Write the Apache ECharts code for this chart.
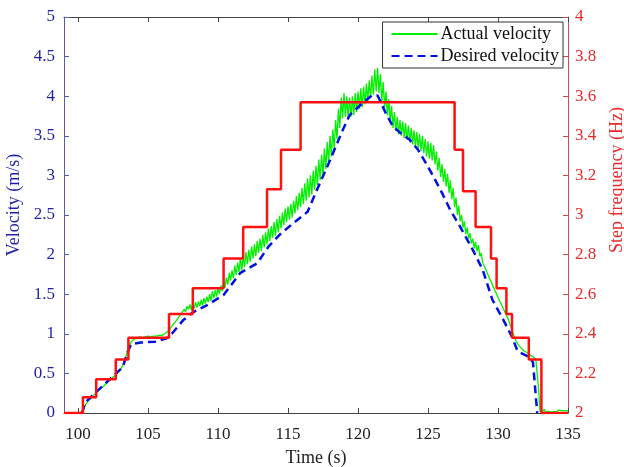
<!DOCTYPE html>
<html>
<head>
<meta charset="utf-8">
<script src="https://cdn.jsdelivr.net/npm/echarts@6/dist/echarts.min.js"></script>
<style>
  html, body { margin: 0; padding: 0; background: #fff; }
  #chart { width: 624px; height: 467px; }
</style>
</head>
<body>
<div id="chart"></div>
<script>
// time ticks on the x axis (axis itself starts at 99)
const timeTicks = [100, 105, 110, 115, 120, 125, 130, 135];

// desired velocity (m/s), dashed blue
const desiredTime = [100.3, 100.5, 101.2, 102.3, 103.2, 103.5, 103.8, 104.5, 105.5, 106.3, 106.7, 107.5, 108.2, 109.2, 110.4, 111.0, 111.6, 112.8, 113.6, 114.4, 115.4, 116.4, 116.9, 118.0, 118.9, 119.4, 120.3, 121.0, 121.4, 122.0, 122.5, 123.0, 123.7, 124.3, 124.9, 125.4, 126.0, 126.6, 127.3, 128.2, 128.9, 129.6, 130.4, 131.0, 131.4, 132.2, 132.5, 132.8];
const desiredVel = [0, 0.13, 0.25, 0.43, 0.58, 0.75, 0.87, 0.89, 0.9, 0.94, 1.0, 1.17, 1.27, 1.36, 1.49, 1.63, 1.77, 1.89, 2.1, 2.25, 2.4, 2.54, 2.75, 3.19, 3.57, 3.76, 3.91, 4.01, 4.01, 3.78, 3.62, 3.54, 3.45, 3.32, 3.14, 2.98, 2.78, 2.56, 2.35, 2.06, 1.81, 1.43, 1.17, 0.96, 0.78, 0.71, 0.64, 0];

// actual velocity (m/s), sampled every 0.1 s from 100 s
const actualStart = 100;
const actualDt = 0.1;
const actualVel = [
  // 100.0 - 104.0
  0, 0, 0.01, 0.02, 0.04, 0.09, 0.12, 0.15, 0.17, 0.18,
  0.20, 0.22, 0.24, 0.26, 0.27, 0.29, 0.31, 0.32, 0.34, 0.35,
  0.37, 0.39, 0.40, 0.42, 0.44, 0.45, 0.47, 0.48, 0.50, 0.52,
  0.54, 0.57, 0.60, 0.65, 0.70, 0.76, 0.82, 0.86, 0.90, 0.92,
  0.93,
  // 104.1 - 106.0
  0.92, 0.95, 0.93, 0.96, 0.94, 0.95, 0.93, 0.96, 0.94, 0.97,
  0.95, 0.96, 0.94, 0.97, 0.95, 0.97, 0.95, 0.98, 0.96, 0.98,
  // 106.1 - 108.0
  0.96, 1.00, 0.98, 1.03, 1.02, 1.07, 1.05, 1.12, 1.10, 1.16,
  1.14, 1.21, 1.19, 1.26, 1.24, 1.31, 1.28, 1.35, 1.31, 1.37,
  // 108.1 - 111.0
  1.30, 1.38, 1.32, 1.40, 1.33, 1.41, 1.35, 1.43, 1.36, 1.45,
  1.38, 1.47, 1.40, 1.50, 1.42, 1.54, 1.45, 1.55, 1.47, 1.58,
  1.50, 1.61, 1.54, 1.66, 1.58, 1.71, 1.62, 1.77, 1.67, 1.80,
  // 111.1 - 116.0
  1.70, 1.86, 1.74, 1.90, 1.78, 1.96, 1.80, 1.98, 1.84, 2.03,
  1.88, 2.06, 1.91, 2.10, 1.95, 2.13, 1.98, 2.17, 2.02, 2.20,
  2.05, 2.25, 2.09, 2.28, 2.13, 2.33, 2.17, 2.36, 2.21, 2.41,
  2.24, 2.45, 2.28, 2.49, 2.33, 2.53, 2.37, 2.58, 2.41, 2.61,
  2.44, 2.64, 2.47, 2.68, 2.52, 2.74, 2.56, 2.78, 2.60, 2.84,
  // 116.1 - 122.0
  2.64, 2.90, 2.68, 2.96, 2.72, 3.00, 2.76, 3.06, 2.82, 3.12,
  2.88, 3.20, 2.94, 3.26, 3.00, 3.34, 3.08, 3.42, 3.16, 3.50,
  3.24, 3.58, 3.34, 3.70, 3.46, 3.84, 3.60, 3.98, 3.72, 4.04,
  3.74, 4.00, 3.72, 3.98, 3.74, 4.00, 3.76, 4.04, 3.80, 4.06,
  3.84, 4.10, 3.86, 4.12, 3.90, 4.16, 3.94, 4.20, 3.98, 4.26,
  4.02, 4.34, 4.06, 4.36, 4.04, 4.28, 3.94, 4.18, 3.86, 4.06,
  // 122.1 - 128.0
  3.76, 3.96, 3.68, 3.88, 3.60, 3.80, 3.56, 3.74, 3.52, 3.70,
  3.50, 3.68, 3.47, 3.66, 3.45, 3.63, 3.42, 3.60, 3.39, 3.57,
  3.36, 3.55, 3.34, 3.52, 3.31, 3.50, 3.28, 3.46, 3.24, 3.43,
  3.21, 3.41, 3.19, 3.38, 3.14, 3.30, 3.06, 3.22, 2.98, 3.14,
  2.92, 3.08, 2.86, 3.02, 2.78, 2.94, 2.70, 2.84, 2.60, 2.72,
  2.50, 2.62, 2.42, 2.50, 2.34, 2.42, 2.26, 2.34, 2.20, 2.27,
  // 128.1 - 133.0
  2.14, 2.20, 2.08, 2.16, 2.04, 2.12, 1.98, 2.02, 1.90, 1.92,
  1.82, 1.84, 1.74, 1.75, 1.66, 1.67, 1.58, 1.58, 1.50, 1.50,
  1.42, 1.42, 1.35, 1.34, 1.27, 1.26, 1.20, 1.18, 1.10, 1.06,
  0.99, 0.96, 0.90, 0.88, 0.85, 0.84, 0.81, 0.80, 0.78, 0.78,
  0.76, 0.75, 0.73, 0.72, 0.71, 0.70, 0.68, 0.66, 0.30, 0.02,
  // 133.1 - 135.0
  0.04, 0.02, 0.05, 0.01, 0.03, 0.02, 0.04, 0.01, 0.03, 0.02,
  0.03, 0.01, 0.04, 0.02, 0.03, 0.01, 0.03, 0.02, 0.03, 0.02
];

// step frequency (Hz), each level holds from its time until the next one
const stepTime = [99, 100.35, 101.3, 102.7, 103.6, 106.5, 108.2, 110.4, 111.8, 113.5, 114.5, 115.9, 126.9, 127.5, 128.4, 129.5, 129.9, 130.6, 131.0, 132.2, 133.1, 135];
const stepFreq = [2, 2.08, 2.17, 2.27, 2.38, 2.5, 2.63, 2.78, 2.94, 3.13, 3.33, 3.57, 3.33, 3.12, 2.94, 2.78, 2.63, 2.5, 2.38, 2.27, 2, 2];

const serif = 'Liberation Serif';
const leftColor = '#1f1fa8';
const rightColor = '#e62a2a';

const chart = echarts.init(document.getElementById('chart'));
chart.setOption({
  animation: false,
  textStyle: { fontFamily: serif },
  grid: { left: 64, right: 56, top: 17, bottom: 54, containLabel: false, outerBoundsMode: 'none' },
  legend: {
    data: ['Actual velocity', 'Desired velocity'],
    orient: 'vertical',
    right: 61,
    top: 22,
    itemWidth: 46,
    itemHeight: 12,
    itemGap: 4,
    padding: [3, 4, 3, 8],
    backgroundColor: '#fff',
    borderColor: '#333',
    borderWidth: 1,
    borderRadius: 0,
    itemStyle: { opacity: 0 },
    textStyle: { fontFamily: serif, fontSize: 18, color: '#111', padding: [0, 0, 0, -2] }
  },
  xAxis: [{
    type: 'value',
    min: 99,
    max: 135,
    name: 'Time (s)',
    nameLocation: 'middle',
    nameGap: 36,
    nameTextStyle: { fontFamily: serif, fontSize: 18, color: '#222' },
    axisLine: { lineStyle: { color: '#444', width: 1 } },
    axisTick: { inside: true, length: 5, customValues: timeTicks, lineStyle: { color: '#444' } },
    axisLabel: { customValues: timeTicks, fontFamily: serif, fontSize: 17, color: '#222', margin: 13 },
    splitLine: { show: false }
  }, {
    type: 'value',
    position: 'top',
    min: 99,
    max: 135,
    axisLine: { onZero: false, lineStyle: { color: '#444', width: 1 } },
    axisTick: { inside: true, length: 5, customValues: timeTicks, lineStyle: { color: '#444' } },
    axisLabel: { show: false },
    splitLine: { show: false }
  }],
  yAxis: [{
    type: 'value',
    min: 0,
    max: 5,
    interval: 0.5,
    name: 'Velocity (m/s)',
    nameLocation: 'middle',
    nameRotate: 90,
    nameGap: 37,
    nameTextStyle: { fontFamily: serif, fontSize: 18, color: leftColor, padding: [0, 0, 0, 20] },
    axisLine: { show: true, lineStyle: { color: '#5a5ab0', width: 1 } },
    axisTick: { show: true, inside: true, length: 5, lineStyle: { color: '#5a5ab0' } },
    axisLabel: { fontFamily: serif, fontSize: 17, color: leftColor, margin: 9 },
    splitLine: { show: false }
  }, {
    type: 'value',
    position: 'right',
    min: 2,
    max: 4,
    interval: 0.2,
    name: 'Step frequency (Hz)',
    nameLocation: 'middle',
    nameRotate: 90,
    nameGap: 40,
    nameTextStyle: { fontFamily: serif, fontSize: 18, color: rightColor, padding: [0, 0, 0, 70] },
    axisLine: { show: true, lineStyle: { color: '#d24a4a', width: 1 } },
    axisTick: { show: true, inside: true, length: 5, lineStyle: { color: '#d24a4a' } },
    axisLabel: { fontFamily: serif, fontSize: 17, color: rightColor, margin: 7 },
    splitLine: { show: false }
  }],
  series: [{
    name: 'Actual velocity',
    type: 'line',
    xAxisIndex: 0,
    yAxisIndex: 0,
    symbol: 'none',
    z: 2,
    lineStyle: { color: '#00f000', width: 1.3 },
    itemStyle: { color: '#00f000' },
    data: actualVel.map((v, i) => [actualStart + i * actualDt, v])
  }, {
    name: 'Desired velocity',
    type: 'line',
    xAxisIndex: 0,
    yAxisIndex: 0,
    symbol: 'none',
    z: 3,
    lineStyle: { color: '#0010e0', width: 2.5, type: [8, 5] },
    itemStyle: { color: '#0010e0' },
    data: desiredTime.map((t, i) => [t, desiredVel[i]])
  }, {
    name: 'Step frequency',
    type: 'line',
    xAxisIndex: 0,
    yAxisIndex: 1,
    symbol: 'none',
    step: 'end',
    z: 4,
    lineStyle: { color: '#ff1010', width: 2.5 },
    itemStyle: { color: '#ff1010' },
    data: stepTime.map((t, i) => [t, stepFreq[i]])
  }]
});
</script>
</body>
</html>
